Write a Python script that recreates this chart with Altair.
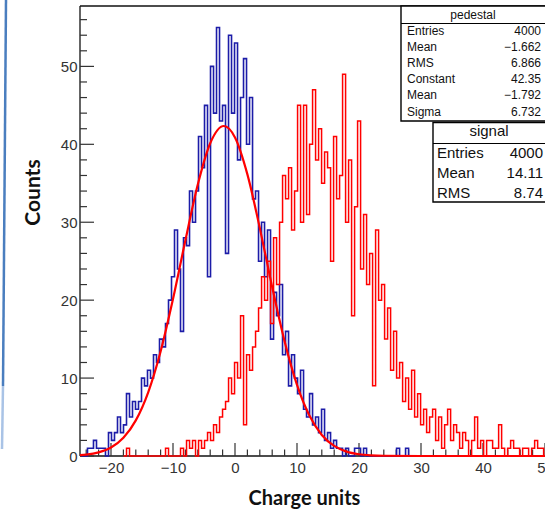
import altair as alt
import pandas as pd

# ---------------- data ----------------
BIN_WIDTH = 0.484
PED_START = -24.76
PED_COUNTS = [0, 0, 1, 1, 2, 1, 1, 1, 0, 3,
              2, 3, 5, 3, 4, 8, 5, 7, 6, 7,
              10, 9, 11, 10, 13, 12, 15, 14, 17, 20,
              23, 29, 24, 16, 28, 27, 34, 30, 34, 41,
              37, 45, 23, 50, 44, 55, 43, 45, 26, 54,
              44, 53, 38, 46, 51, 40, 46, 33, 34, 25,
              30, 23, 29, 15, 21, 18, 22, 13, 16, 9,
              13, 10, 8, 11, 6, 5, 8, 4, 5, 3,
              6, 2, 3, 1, 2, 1, 1, 0, 1, 0,
              0, 1, 1, 0, 1, 0, 0, 0, 0, 0,
              0, 0, 0, 0, 0, 1, 0, 0, 1, 0]

SIG_START = -17.98
SIG_COUNTS = [0, 1, 0, 0, 0, 0, 0, 0, 0, 0,
              0, 0, 0, 0, 1, 0, 0, 0, 0, 1,
              0, 2, 1, 2, 0, 2, 1, 2, 3, 2,
              4, 3, 5, 6,
              7, 10, 8, 12, 10, 18, 4, 13, 11, 14,
              16, 19, 23, 20, 25, 17, 28, 22, 30, 36,
              33, 37, 29, 34, 45, 30, 45, 31, 40, 47,
              38, 42, 35, 39, 37, 25, 41, 33, 36, 49,
              30, 38, 18, 32, 43, 24, 31, 22, 26, 9,
              29, 20, 22, 15, 19, 11, 16, 10, 12, 7,
              10, 6, 11, 5, 8, 4, 6, 3, 5, 6,
              2, 5, 1, 4, 6, 2, 4, 3, 1, 3,
              2, 0, 2, 5, 1, 2, 0, 2, 2, 1,
              1, 4, 1, 0, 1, 2, 1, 1, 0, 1,
              1, 0, 1, 2, 1, 1, 0]

FIT_X = [-25, -24, -22, -20, -18, -16, -14, -12, -10, -8, -6, -4, -1.8, 0,
         2, 4, 6, 8, 10, 12, 14, 16, 18, 20, 22, 24, 30, 40, 50]
FIT_Y = [0.11, 0.18, 0.47, 1.09, 2.34, 4.57, 8.18, 13.42, 20.14, 27.68, 34.83, 40.13, 42.35, 40.88,
         36.14, 29.25, 21.67, 14.71, 9.13, 5.19, 2.70, 1.29, 0.56, 0.22, 0.08, 0.03, 0.0, 0.0, 0.0]

X_LABELS = [-20, -10, 0, 10, 20, 30, 40, 50]
X_MINOR = [-24, -22, -18, -16, -14, -12, -8, -6, -4, -2, 2, 4, 6, 8, 12, 14, 16, 18,
           22, 24, 26, 28, 32, 34, 36, 38, 42, 44, 46, 48]
Y_LABELS = [0, 10, 20, 30, 40, 50]
Y_MINOR = [2, 4, 6, 8, 12, 14, 16, 18, 22, 24, 26, 28, 32, 34, 36, 38, 42, 44, 46, 48, 52, 54, 56]

PED_TITLE = "pedestal"
PED_NAMES = ["Entries", "Mean", "RMS", "Constant", "Mean", "Sigma"]
PED_VALUES = ["4000", "\u22121.662", "6.866", "42.35", "\u22121.792", "6.732"]
SIG_TITLE = "signal"
SIG_NAMES = ["Entries", "Mean", "RMS"]
SIG_VALUES = ["4000", "14.11", "8.74"]


def hist_frame(start, width, counts):
    xs = [start + i * width for i in range(len(counts))] + [start + len(counts) * width]
    ys = list(counts) + [counts[-1]]
    return pd.DataFrame({"x": xs, "y": ys})


ped_df = hist_frame(PED_START, BIN_WIDTH, PED_COUNTS)
sig_df = hist_frame(SIG_START, BIN_WIDTH, SIG_COUNTS)
fit_df = pd.DataFrame({"x": FIT_X, "y": FIT_Y})
ONE = pd.DataFrame({"k": [0]})

# ---------------- layout ----------------
W, H = 465, 450
XS = alt.Scale(domain=[-25, 50], nice=False, zero=False)
YS = alt.Scale(domain=[0, 57.75], nice=False, zero=False)

x_axis = alt.Axis(values=X_LABELS, format="d", labelFont="Liberation Sans", labelFontSize=15,
                  labelColor="#333333", labelPadding=4, labelFlush=False, domain=False,
                  ticks=False, grid=False, title="Charge units", titleFont="Lato",
                  titleFontSize=20, titleFontWeight="bold", titleColor="#111111",
                  titleX=224, titleY=42, titleAlign="center", titleBaseline="middle")
y_axis = alt.Axis(values=Y_LABELS, format="d", labelFont="Liberation Sans", labelFontSize=15,
                  labelColor="#333333", labelPadding=3, domain=False, ticks=False, grid=False,
                  title="Counts", titleFont="Lato", titleFontSize=21, titleFontWeight="bold",
                  titleColor="#111111", titleAngle=270, titleX=-47, titleY=186,
                  titleAlign="center", titleBaseline="middle")


def X(field="x"):
    return alt.X(f"{field}:Q", scale=XS, axis=x_axis)


def Y(field="y"):
    return alt.Y(f"{field}:Q", scale=YS, axis=y_axis)


layers = []

# slide decoration line at far left
layers.append(alt.Chart(ONE).mark_rule(color="#4a7ebf", strokeWidth=2.5).encode(
    x=alt.value(-74), y=alt.value(-6), x2=alt.value(-77), y2=alt.value(380)))
layers.append(alt.Chart(ONE).mark_rule(color="#a9c3e6", strokeWidth=2.5).encode(
    x=alt.value(-77), y=alt.value(380), x2=alt.value(-78), y2=alt.value(443)))

# frame
FRAME = "#111111"
layers.append(alt.Chart(ONE).mark_rule(color=FRAME, strokeWidth=1.3).encode(
    x=alt.value(0), x2=alt.value(W + 5), y=alt.value(0)))
layers.append(alt.Chart(ONE).mark_rule(color=FRAME, strokeWidth=1.3).encode(
    x=alt.value(0), y=alt.value(0), y2=alt.value(H)))
layers.append(alt.Chart(ONE).mark_rule(color=FRAME, strokeWidth=1.3).encode(
    x=alt.value(0), x2=alt.value(W + 5), y=alt.value(H)))

# ticks (inside, ROOT style)
TICK = "#333333"
layers.append(alt.Chart(pd.DataFrame({"t": X_LABELS})).mark_rule(color=TICK, strokeWidth=1.2).encode(
    x=X("t"), y=alt.value(H), y2=alt.value(H - 13)))
layers.append(alt.Chart(pd.DataFrame({"t": X_MINOR})).mark_rule(color=TICK, strokeWidth=1.2).encode(
    x=X("t"), y=alt.value(H), y2=alt.value(H - 6.5)))
layers.append(alt.Chart(pd.DataFrame({"t": Y_LABELS})).mark_rule(color=TICK, strokeWidth=1.2).encode(
    y=Y("t"), x=alt.value(0), x2=alt.value(14)))
layers.append(alt.Chart(pd.DataFrame({"t": Y_MINOR})).mark_rule(color=TICK, strokeWidth=1.2).encode(
    y=Y("t"), x=alt.value(0), x2=alt.value(7)))

# histograms and fit
layers.append(alt.Chart(ped_df).mark_line(interpolate="step-after", color="#1c1ca8", strokeWidth=1.6).encode(
    x=X(), y=Y()))
layers.append(alt.Chart(sig_df).mark_line(interpolate="step-after", color="#ff0000", strokeWidth=1.5).encode(
    x=X(), y=Y()))
layers.append(alt.Chart(fit_df).mark_line(interpolate="monotone", color="#ff0000", strokeWidth=2.2).encode(
    x=X(), y=Y()))

# stat boxes
BOX = "#000000"
# pedestal box
layers.append(alt.Chart(ONE).mark_rect(fill="white", stroke=BOX, strokeWidth=1.4).encode(
    x=alt.value(321), x2=alt.value(W + 10), y=alt.value(0), y2=alt.value(115)))
layers.append(alt.Chart(ONE).mark_rule(color=BOX, strokeWidth=1.2).encode(
    x=alt.value(321), x2=alt.value(W + 10), y=alt.value(17.5)))
layers.append(alt.Chart(ONE).mark_text(font="Liberation Sans", fontSize=12, color="#111111",
                                       align="center", baseline="middle").encode(
    x=alt.value(393), y=alt.value(9), text=alt.value(PED_TITLE)))
for i, (nm, vl) in enumerate(zip(PED_NAMES, PED_VALUES)):
    yy = 25 + i * 16.1
    layers.append(alt.Chart(ONE).mark_text(font="Liberation Sans", fontSize=12, color="#111111",
                                           align="left", baseline="middle").encode(
        x=alt.value(327), y=alt.value(yy), text=alt.value(nm)))
    layers.append(alt.Chart(ONE).mark_text(font="Liberation Sans", fontSize=12, color="#111111",
                                           align="right", baseline="middle").encode(
        x=alt.value(461), y=alt.value(yy), text=alt.value(vl)))

# signal box
layers.append(alt.Chart(ONE).mark_rect(fill="white", stroke=BOX, strokeWidth=1.4).encode(
    x=alt.value(353), x2=alt.value(W + 10), y=alt.value(116.5), y2=alt.value(196)))
layers.append(alt.Chart(ONE).mark_rule(color=BOX, strokeWidth=1.2).encode(
    x=alt.value(353), x2=alt.value(W + 10), y=alt.value(137.5)))
layers.append(alt.Chart(ONE).mark_text(font="Liberation Sans", fontSize=15, color="#111111",
                                       align="center", baseline="middle").encode(
    x=alt.value(409), y=alt.value(125), text=alt.value(SIG_TITLE)))
for i, (nm, vl) in enumerate(zip(SIG_NAMES, SIG_VALUES)):
    yy = 147 + i * 20
    layers.append(alt.Chart(ONE).mark_text(font="Liberation Sans", fontSize=15, color="#111111",
                                           align="left", baseline="middle").encode(
        x=alt.value(357), y=alt.value(yy), text=alt.value(nm)))
    layers.append(alt.Chart(ONE).mark_text(font="Liberation Sans", fontSize=15, color="#111111",
                                           align="right", baseline="middle").encode(
        x=alt.value(463), y=alt.value(yy), text=alt.value(vl)))

chart = alt.layer(*layers).properties(
    width=W, height=H,
    padding={"left": 80, "top": 6, "right": 0, "bottom": 57},
    autosize=alt.AutoSizeParams(type="none"),
    background="white",
).configure_view(stroke=None)

chart.save("out.html", embed_options={"renderer": "svg", "actions": False})
